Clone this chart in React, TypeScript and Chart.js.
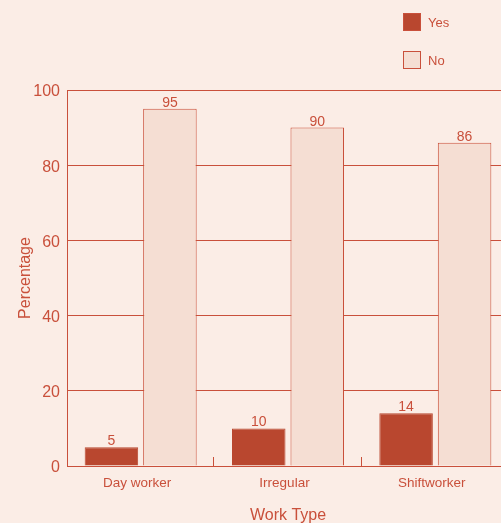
import React, { useEffect, useRef } from "react";
import { Chart, registerables } from "chart.js";

Chart.register(...registerables);

const categories = ["Day worker", "Irregular", "Shiftworker"];
const yesValues = [5, 10, 14];
const noValues = [95, 90, 86];
const seriesNames = ["Yes", "No"];
const yTicks = [0, 20, 40, 60, 80, 100];

const BG = "#fbede6";
const INK = "#c9503b";
const YES_FILL = "#b9472f";
const NO_FILL = "#f5ded3";
const FONT = "'Liberation Sans', Arial, Helvetica, sans-serif";

const valueLabels = {
  id: "valueLabels",
  afterDatasetsDraw(chart: any) {
    const ctx = chart.ctx;
    ctx.save();
    ctx.fillStyle = INK;
    ctx.font = `14px ${FONT}`;
    ctx.textAlign = "center";
    ctx.textBaseline = "alphabetic";
    chart.data.datasets.forEach((ds: any, di: number) => {
      const meta = chart.getDatasetMeta(di);
      meta.data.forEach((bar: any, i: number) => {
        ctx.fillText(String(ds.data[i]), bar.x, bar.y - 2);
      });
    });
    ctx.restore();
  },
};

const innerTicks = {
  id: "innerTicks",
  afterDraw(chart: any) {
    const x = chart.scales.x;
    const y = chart.scales.y;
    const ctx = chart.ctx;
    const n = chart.data.labels.length;
    const w = (x.right - x.left) / n;
    const base = y.getPixelForValue(0);
    ctx.save();
    ctx.strokeStyle = INK;
    ctx.lineWidth = 1;
    for (let i = 1; i < n; i++) {
      const px = Math.round(x.getPixelForValue(i) - w / 2) - 0.5;
      ctx.beginPath();
      ctx.moveTo(px, base);
      ctx.lineTo(px, base - 9);
      ctx.stroke();
    }
    ctx.restore();
  },
};

export default function App() {
  const ref = useRef<HTMLCanvasElement>(null);
  useEffect(() => {
    const canvas = ref.current!;
    const chart = new Chart(canvas, {
      type: "bar",
      data: {
        labels: categories,
        datasets: [
          {
            label: seriesNames[0],
            data: yesValues,
            backgroundColor: YES_FILL,
            borderColor: YES_FILL,
            borderWidth: 1,
            barPercentage: 0.915,
            categoryPercentage: 0.794,
          },
          {
            label: seriesNames[1],
            data: noValues,
            backgroundColor: NO_FILL,
            borderColor: INK,
            borderWidth: 1,
            barPercentage: 0.915,
            categoryPercentage: 0.794,
          },
        ],
      },
      options: {
        responsive: false,
        animation: false,
        layout: { padding: { top: 90, left: 0, right: 0, bottom: 0 } },
        plugins: {
          legend: { display: false },
          tooltip: { enabled: false },
        },
        scales: {
          x: {
            grid: { display: false },
            border: { display: false },
            ticks: {
              color: INK,
              font: { family: FONT, size: 13.5 },
              padding: 1,
              labelOffset: -3.5,
            },
            title: {
              display: true,
              text: "Work Type",
              color: INK,
              font: { family: FONT, size: 16 },
              padding: { top: 4, bottom: -2 },
            },
            afterFit: (s: any) => {
              s.height = 57;
            },
          },
          y: {
            min: 0,
            max: 100,
            afterBuildTicks: (s: any) => {
              s.ticks = yTicks.map((v) => ({ value: v }));
            },
            grid: { color: INK, drawTicks: false, lineWidth: 1 },
            border: { display: true, color: INK },
            ticks: {
              color: INK,
              font: { family: FONT, size: 16 },
              padding: 7,
              labelOffset: 2,
            },
            title: {
              display: true,
              text: "Percentage",
              color: INK,
              font: { family: FONT, size: 16 },
              padding: { top: 16, bottom: 0 },
            },
            afterFit: (s: any) => {
              s.width = 67;
            },
          },
        },
      },
      plugins: [valueLabels, innerTicks],
    });
    return () => chart.destroy();
  }, []);

  const legendItems = seriesNames.map((name, i) => ({
    name,
    fill: i === 0 ? YES_FILL : NO_FILL,
  }));

  return (
    <div
      style={{
        position: "absolute",
        left: 0,
        top: 0,
        width: 501,
        height: 523,
        overflow: "hidden",
        background: BG,
        fontFamily: FONT,
      }}
    >
      <canvas ref={ref} width={509} height={523} style={{ display: "block" }} />
      {legendItems.map((it, i) => (
        <div
          key={it.name}
          style={{
            position: "absolute",
            left: 403,
            top: 13 + i * 38,
            height: 18,
            display: "flex",
            alignItems: "center",
            color: INK,
            fontSize: 13,
          }}
        >
          <span
            style={{
              display: "inline-block",
              width: 16,
              height: 16,
              background: it.fill,
              border: `1px solid ${INK}`,
              marginRight: 7,
            }}
          />
          <span>{it.name}</span>
        </div>
      ))}
    </div>
  );
}
